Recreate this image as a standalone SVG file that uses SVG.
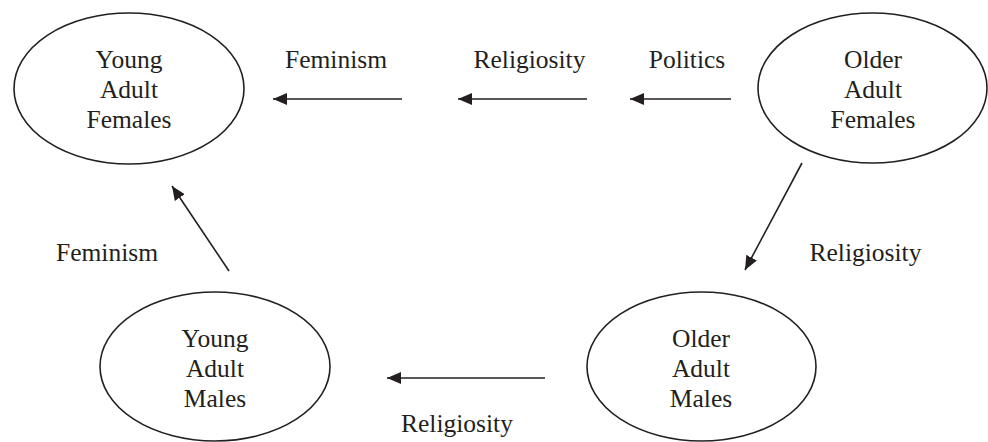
<svg xmlns="http://www.w3.org/2000/svg" width="988" height="442" viewBox="0 0 988 442">
<style>
.node{fill:#fff;stroke:#231f20;stroke-width:1.6}
text{font-family:'Liberation Serif','Times New Roman','DejaVu Serif',serif;font-size:25.5px;fill:#231f20;text-anchor:middle}
.edge{stroke:#231f20;stroke-width:1.6;fill:none;marker-end:url(#ah)}
</style>
<defs>
<marker id="ah" markerUnits="userSpaceOnUse" markerWidth="16" markerHeight="14" refX="14" refY="6" orient="auto">
<path d="M0,0 L14,6 L0,12 z" fill="#231f20"/>
</marker>
</defs>
<rect width="988" height="442" fill="#fff"/>
<g id="yaf" font-family="Liberation Serif, serif">
<ellipse class="node" cx="129" cy="88.5" rx="115" ry="75.5"/>
<text x="129" y="68">Young</text>
<text x="129" y="98">Adult</text>
<text x="129" y="128">Females</text>
</g>
<g id="oaf">
<ellipse class="node" cx="872.5" cy="88" rx="114.5" ry="75"/>
<text x="873" y="68">Older</text>
<text x="873" y="98">Adult</text>
<text x="873" y="128">Females</text>
</g>
<g id="yam">
<ellipse class="node" cx="215" cy="366.5" rx="115" ry="74.5"/>
<text x="215" y="347">Young</text>
<text x="215" y="377">Adult</text>
<text x="215" y="407">Males</text>
</g>
<g id="oam">
<ellipse class="node" cx="701.5" cy="366.5" rx="114.5" ry="74.5"/>
<text x="701" y="347">Older</text>
<text x="701" y="377">Adult</text>
<text x="701" y="407">Males</text>
</g>
<g id="connectors">
<line class="edge" x1="402" y1="99" x2="273" y2="99"/>
<line class="edge" x1="587" y1="99" x2="458" y2="99"/>
<line class="edge" x1="731" y1="99" x2="630" y2="99"/>
<line class="edge" x1="802" y1="163" x2="745" y2="270"/>
<line class="edge" x1="229" y1="271" x2="172" y2="186"/>
<line class="edge" x1="545" y1="378" x2="387" y2="378"/>
</g>
<g id="labels">
<text x="336" y="68">Feminism</text>
<text x="529.5" y="68">Religiosity</text>
<text x="687" y="68">Politics</text>
<text x="865.5" y="261">Religiosity</text>
<text x="107" y="261">Feminism</text>
<text x="457" y="432">Religiosity</text>
</g>
</svg>
